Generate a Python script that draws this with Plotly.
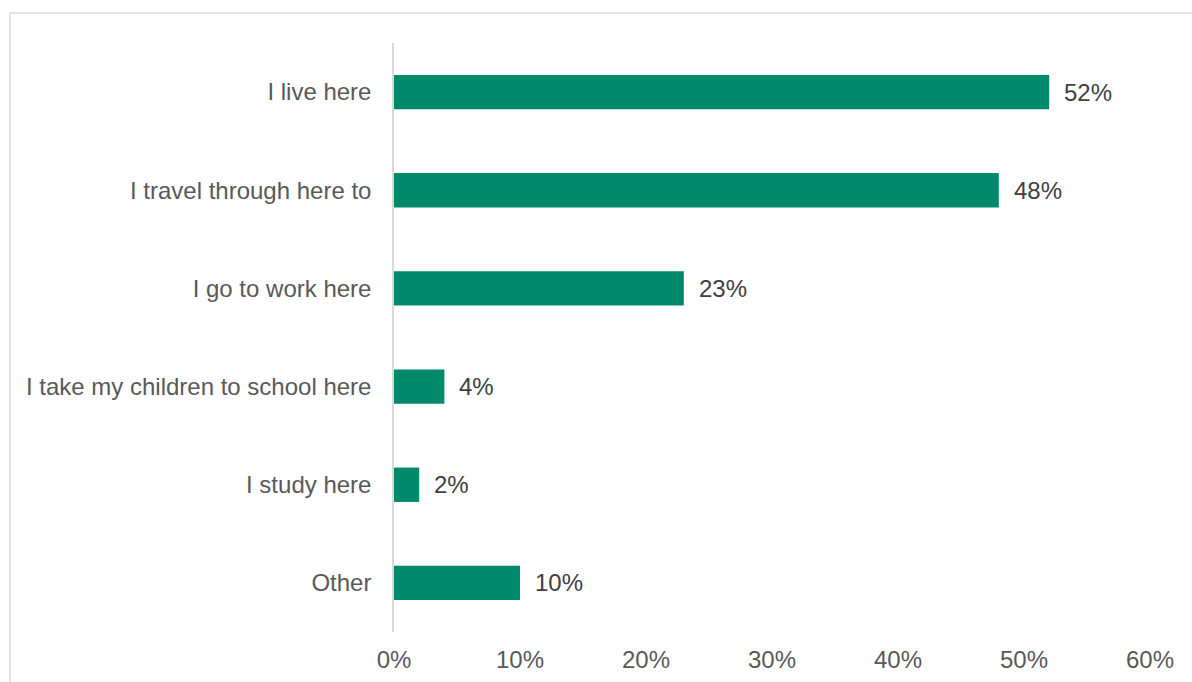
import plotly.graph_objects as go

categories = [
    "I live here",
    "I travel through here to",
    "I go to work here",
    "I take my children to school here",
    "I study here",
    "Other",
]
values = [52, 48, 23, 4, 2, 10]
tick_vals = [0, 10, 20, 30, 40, 50, 60]
tick_text = ["0%", "10%", "20%", "30%", "40%", "50%", "60%"]

BAR_COLOR = "#00896A"
FONT = "Liberation Sans, Arial, sans-serif"
FS = 24

W, H = 1192, 682
L, R, T, B = 394, 42, 43, 50
pw, ph = W - L - R, H - T - B

fig = go.Figure(
    go.Bar(
        x=values,
        y=categories,
        orientation="h",
        marker=dict(color=BAR_COLOR, line=dict(width=0)),
        width=0.35,
        hoverinfo="skip",
    )
)

for c, v in zip(categories, values):
    fig.add_annotation(
        x=v, y=c, xref="x", yref="y",
        text=f"{v}%", showarrow=False,
        xanchor="left", yanchor="middle", xshift=13,
        font=dict(family=FONT, size=FS, color="#404040"),
    )

# outer chart frame
fig.add_shape(
    type="rect", xref="paper", yref="paper",
    x0=(10 - L) / pw, x1=(W + 20 - L) / pw,
    y0=-(B + 20) / ph, y1=1 + (T - 13) / ph,
    line=dict(color="#D9D9D9", width=1.5),
    fillcolor="rgba(0,0,0,0)", layer="below",
)

fig.update_layout(
    width=W, height=H,
    margin=dict(l=L, r=R, t=T, b=B, autoexpand=False),
    paper_bgcolor="white", plot_bgcolor="white",
    showlegend=False,
    font=dict(family=FONT, size=FS, color="#595959"),
    xaxis=dict(
        range=[0, 60], tickvals=tick_vals, ticktext=tick_text,
        showgrid=False, zeroline=False, showline=False,
        ticks="", ticklabelstandoff=11, automargin=False,
        tickfont=dict(family=FONT, size=FS, color="#595959"),
        fixedrange=True,
    ),
    yaxis=dict(
        categoryorder="array", categoryarray=categories[::-1],
        range=[-0.5, len(categories) - 0.5],
        showgrid=False, zeroline=False,
        showline=True, linecolor="#D9D9D9", linewidth=1.5,
        ticks="", ticklabelstandoff=16, automargin=False,
        tickfont=dict(family=FONT, size=FS, color="#595959"),
        fixedrange=True,
    ),
)

fig.write_html("out.html")
